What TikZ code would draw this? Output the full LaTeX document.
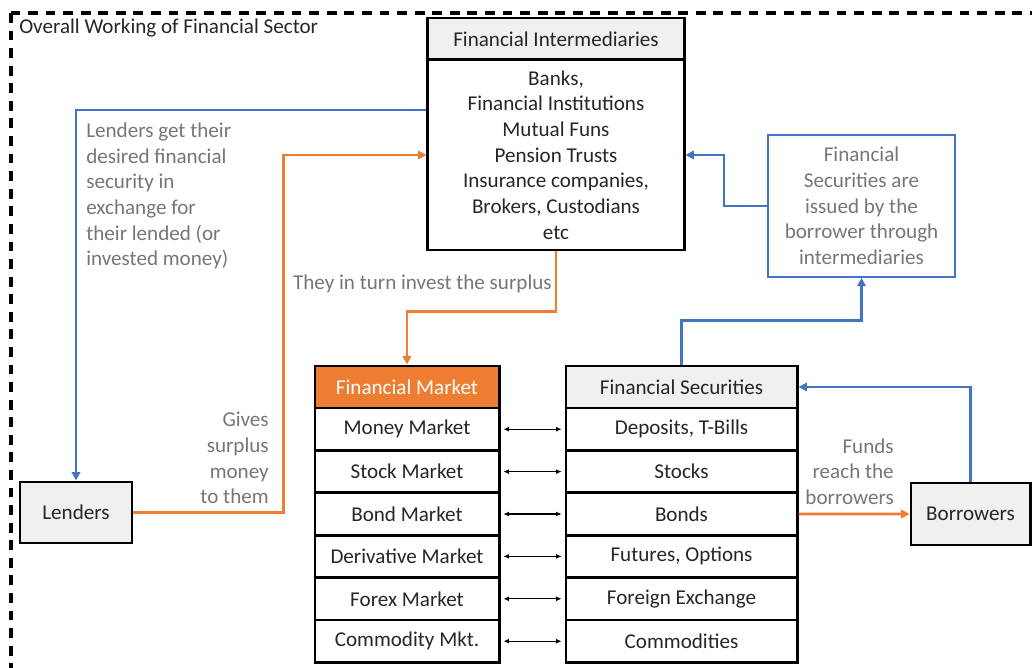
\documentclass[tikz,border=0pt]{standalone}
\usepackage{fontspec}
\setmainfont{Carlito}
\usepackage{xcolor}
\usetikzlibrary{positioning, arrows.meta, calc}
\definecolor{offblue}{HTML}{4472C4}
\definecolor{offorange}{HTML}{ED7D31}
\definecolor{hdrgray}{HTML}{F0F0F0}
\definecolor{txtgray}{HTML}{767676}
\definecolor{txtdark}{HTML}{262626}

\begin{document}
\begin{tikzpicture}[x=0.025cm, y=-0.025cm, every node/.style={font=\fontsize{15}{18.3}\selectfont, text=txtdark}]
  \def\RH{42.4}
  \tikzset{
    frame/.style={draw=black, line width=2.2pt, dash pattern=on 7pt off 5.5pt},
    box/.style={draw=black, line width=2.1pt, inner sep=0pt, align=center},
    hdr/.style={box, fill=hdrgray},
    lbl/.style={text=txtgray, inner sep=0pt},
    blueflow/.style={draw=offblue, line width=1.8pt, -{Triangle[length=6pt,width=6pt]}},
    orangeflow/.style={draw=offorange, line width=1.8pt, -{Triangle[length=6pt,width=6pt]}},
    twoway/.style={draw=black, line width=0.8pt, {Latex[length=4pt,width=3.5pt]}-{Latex[length=4pt,width=3.5pt]}, shorten <=2pt, shorten >=2pt},
  }
  \useasboundingbox (0,0) rectangle (1032,668);
  \clip (0,0) rectangle (1032,668);
  %% outer dashed frame (runs off the page right and bottom)
  \draw[frame] (11,13) rectangle (1060,700);
  \node[anchor=west, inner sep=0pt] (title) at (19,28) {Overall Working of Financial Sector};

  %% intermediaries on top
  \node[hdr, minimum width=6.4cm, minimum height=1.05cm] (fih) at (556,39) {Financial Intermediaries};
  \node[box, minimum width=6.4cm, minimum height=4.75cm] (fib) at (556,155)
    {Banks,\\Financial Institutions\\Mutual Funs\\Pension Trusts\\Insurance companies,\\Brokers, Custodians\\etc};
  \node[box, draw=offblue, line width=1.1pt, text=txtgray, minimum width=4.675cm, minimum height=3.55cm] (issue) at (861.5,206)
    {Financial\\Securities are\\issued by the\\borrower through\\intermediaries};

  %% lenders and borrowers
  \node[hdr, minimum width=2.8cm, minimum height=1.525cm] (lenders) at (76,512.5) {Lenders};
  \node[hdr, minimum width=2.975cm, minimum height=1.55cm] (borrowers) at (970.5,514) {Borrowers};

  %% market / securities table
  \node[box, fill=offorange, text=white, minimum width=4.6cm, minimum height=1.05cm] (fmh) at (407,387) {Financial Market};
  \node[hdr, minimum width=5.775cm, minimum height=1.05cm] (fsh) at (681.5,387) {Financial Securities};
  \foreach \i/\m/\s in {1/Money Market/{Deposits, T-Bills}, 2/Stock Market/Stocks, 3/Bond Market/Bonds,
      4/Derivative Market/{Futures, Options}, 5/Forex Market/Foreign Exchange, 6/Commodity Mkt./Commodities} {
    \node[box, minimum width=4.6cm, minimum height=1.06cm] (fm\i) at (407,{408+\RH*(\i-0.5)}) {\m};
    \node[box, minimum width=5.775cm, minimum height=1.06cm] (fs\i) at (681.5,{408+\RH*(\i-0.5)}) {\s};
    \draw[twoway] (fm\i) -- (fs\i);
  }

  %% flows
  \draw[blueflow] (issue.west) -- ++(-43,0) |- (fib.east);
  \draw[blueflow] (fib.west |- 0,110) -| (lenders.north);
  \draw[orangeflow] (lenders.east) -- ++(150,0) |- (fib.west);
  \draw[orangeflow] (fib.south) -- ++(0,60) -| (fmh.north);
  \draw[blueflow] (fsh.north) -- ++(0,-44) -| (issue.south);
  \draw[blueflow] (borrowers.north) |- (fsh.east);
  \draw[orangeflow] (fs3.east) -- (borrowers.west);

  %% flow labels
  \node[lbl, align=left, anchor=west] (lblLend) at (86,196)
    {Lenders get their\\desired financial\\security in\\exchange for\\their lended (or\\invested money)};
  \node[lbl, align=right, anchor=east] (lblGive) at (269,458) {Gives\\surplus\\money\\to them};
  \node[lbl, anchor=east] (lblInvest) at (552,284) {They in turn invest the surplus};
  \node[lbl, align=right, anchor=east] (lblFunds) at (894,471.5) {Funds\\reach the\\borrowers};
\end{tikzpicture}
\end{document}
